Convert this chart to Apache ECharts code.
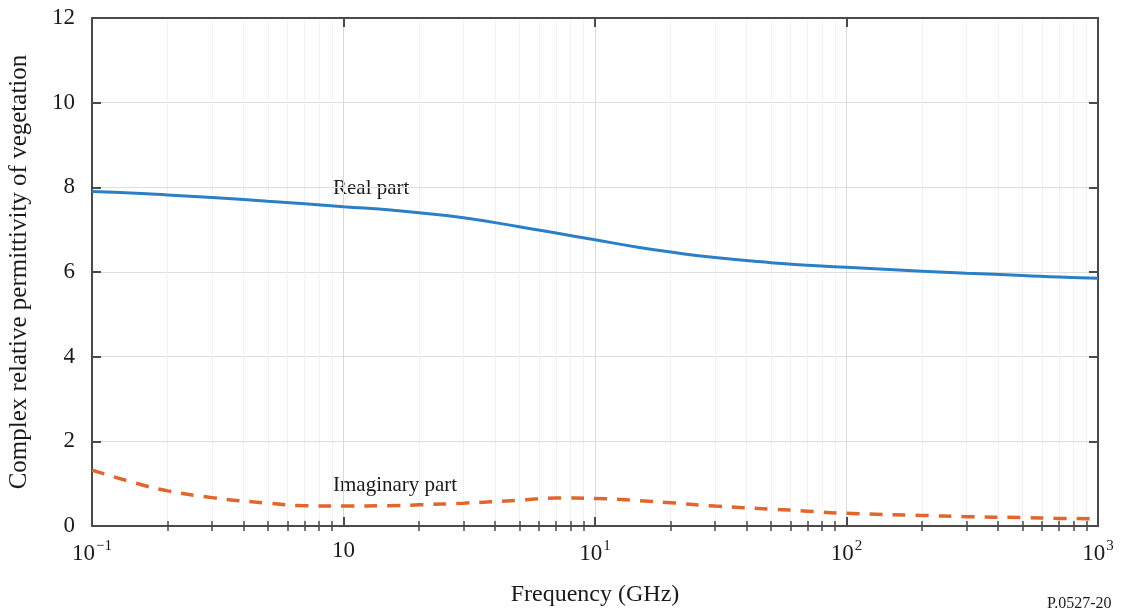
<!DOCTYPE html>
<html>
<head>
<meta charset="utf-8">
<script src="https://cdn.jsdelivr.net/npm/echarts@6/dist/echarts.min.js"></script>
<style>
  html, body { margin: 0; padding: 0; background: #ffffff; }
  #chart { width: 1126px; height: 613px; }
</style>
</head>
<body>
<div id="chart"></div>
<script>
// Frequency samples (GHz) and the two components of the permittivity
const freqs = [0.1, 0.15, 0.2, 0.3, 0.5, 0.7, 1, 1.5, 2, 3, 5, 7, 10, 15, 20, 30, 50, 70, 100, 200, 300, 500, 700, 1000];
const realPart = [7.90, 7.86, 7.82, 7.76, 7.67, 7.61, 7.54, 7.47, 7.40, 7.28, 7.07, 6.92, 6.76, 6.58, 6.47, 6.34, 6.22, 6.16, 6.11, 6.02, 5.97, 5.92, 5.88, 5.85];
const imagPart = [1.32, 1.01, 0.83, 0.67, 0.54, 0.48, 0.47, 0.48, 0.50, 0.54, 0.61, 0.66, 0.65, 0.60, 0.55, 0.47, 0.40, 0.35, 0.30, 0.25, 0.22, 0.20, 0.18, 0.17];

// Decade tick labels: mantissa text and superscript exponent
const decadeValues = [0.1, 1, 10, 100, 1000];
const decadeBases = ['10', '10', '10', '10', '10'];
const decadeExponents = ['\u22121', '', '1', '2', '3'];

const yTicks = { min: 0, max: 12, interval: 2 };
const minorMultipliers = [2, 3, 4, 5, 6, 7, 8, 9];

const minorValues = [];
decadeValues.slice(0, -1).forEach(d => minorMultipliers.forEach(m => minorValues.push(d * m)));

const serif = '"Liberation Serif", "DejaVu Serif", serif';
const axisColor = '#4a4a4a';
const textColor = '#1a1a1a';

function decadeLabel(v) {
  const e = Math.round(Math.log10(v));
  const i = decadeValues.findIndex(d => Math.round(Math.log10(d)) === e);
  if (i < 0) return '';
  return decadeExponents[i] ? '{b|' + decadeBases[i] + '}{s|' + decadeExponents[i] + '}' : '{b|' + decadeBases[i] + '}';
}

const baseLog = { type: 'log', logBase: 10, min: 0.1, max: 1000, gridIndex: 0 };

const chart = echarts.init(document.getElementById('chart'), null, { renderer: 'canvas' });
chart.setOption({
  animation: false,
  backgroundColor: '#ffffff',
  grid: { left: 92, right: 28, top: 18, bottom: 87, outerBoundsMode: 'none' },
  xAxis: [
    Object.assign({}, baseLog, {
      position: 'bottom',
      name: 'Frequency (GHz)',
      nameLocation: 'middle',
      nameGap: 57,
      nameTextStyle: { fontFamily: serif, fontSize: 24, color: textColor },
      axisLine: { show: true, onZero: false, lineStyle: { color: axisColor, width: 2 } },
      axisTick: { show: true, inside: true, length: 9, lineStyle: { color: axisColor, width: 2 } },
      axisLabel: {
        margin: 13,
        formatter: decadeLabel,
        rich: {
          b: { fontFamily: serif, fontSize: 23, color: textColor },
          s: { fontFamily: serif, fontSize: 15, color: textColor, padding: [0, 0, 15, 1] }
        }
      },
      splitLine: { show: true, lineStyle: { color: '#d9d9d9', width: 1 } }
    }),
    Object.assign({}, baseLog, {
      position: 'bottom',
      axisLine: { show: false },
      axisTick: { show: true, inside: true, length: 5, customValues: minorValues, lineStyle: { color: axisColor, width: 1.5 } },
      axisLabel: { show: false },
      splitLine: { show: true, lineStyle: { color: '#e4e4e4', width: 1, type: 'dotted' } }
    }),
    Object.assign({}, baseLog, {
      position: 'top',
      axisLine: { show: true, onZero: false, lineStyle: { color: axisColor, width: 2 } },
      axisTick: { show: true, inside: true, length: 9, lineStyle: { color: axisColor, width: 2 } },
      axisLabel: { show: false },
      splitLine: { show: false }
    }),
    Object.assign({}, baseLog, {
      position: 'top',
      axisLine: { show: false },
      axisTick: { show: true, inside: true, length: 5, customValues: minorValues, lineStyle: { color: axisColor, width: 1.5 } },
      axisLabel: { show: false },
      splitLine: { show: false }
    })
  ],
  yAxis: [
    {
      type: 'value', position: 'left',
      min: yTicks.min, max: yTicks.max, interval: yTicks.interval,
      name: 'Complex relative permittivity of vegetation',
      nameLocation: 'middle',
      nameGap: 60,
      nameTextStyle: { fontFamily: serif, fontSize: 25, color: textColor },
      axisLine: { show: true, onZero: false, lineStyle: { color: axisColor, width: 2 } },
      axisTick: { show: true, inside: true, length: 9, lineStyle: { color: axisColor, width: 2 } },
      axisLabel: { margin: 17, fontFamily: serif, fontSize: 23, color: textColor },
      splitLine: { show: true, lineStyle: { color: '#dedede', width: 1 } }
    },
    {
      type: 'value', position: 'right',
      min: yTicks.min, max: yTicks.max, interval: yTicks.interval,
      axisLine: { show: true, onZero: false, lineStyle: { color: axisColor, width: 2 } },
      axisTick: { show: true, inside: true, length: 9, lineStyle: { color: axisColor, width: 2 } },
      axisLabel: { show: false },
      splitLine: { show: false }
    }
  ],
  series: [
    {
      name: 'Real part',
      type: 'line',
      xAxisIndex: 0, yAxisIndex: 0,
      data: freqs.map((f, i) => [f, realPart[i]]),
      smooth: 0.5,
      showSymbol: false,
      lineStyle: { color: '#2a7fc6', width: 3 },
      z: 5
    },
    {
      name: 'Imaginary part',
      type: 'line',
      xAxisIndex: 0, yAxisIndex: 0,
      data: freqs.map((f, i) => [f, imagPart[i]]),
      smooth: 0.5,
      showSymbol: false,
      lineStyle: { color: '#e0662e', width: 3.5, type: [13, 10] },
      z: 5
    }
  ],
  graphic: [
    { type: 'text', left: 333, top: 178, style: { text: 'Real part', font: '21px ' + serif, fill: textColor } },
    { type: 'text', left: 333, top: 475, style: { text: 'Imaginary part', font: '21px ' + serif, fill: textColor } },
    { type: 'text', left: 1047, top: 596, style: { text: 'P.0527-20', font: '16px ' + serif, fill: textColor } }
  ]
});
</script>
</body>
</html>
